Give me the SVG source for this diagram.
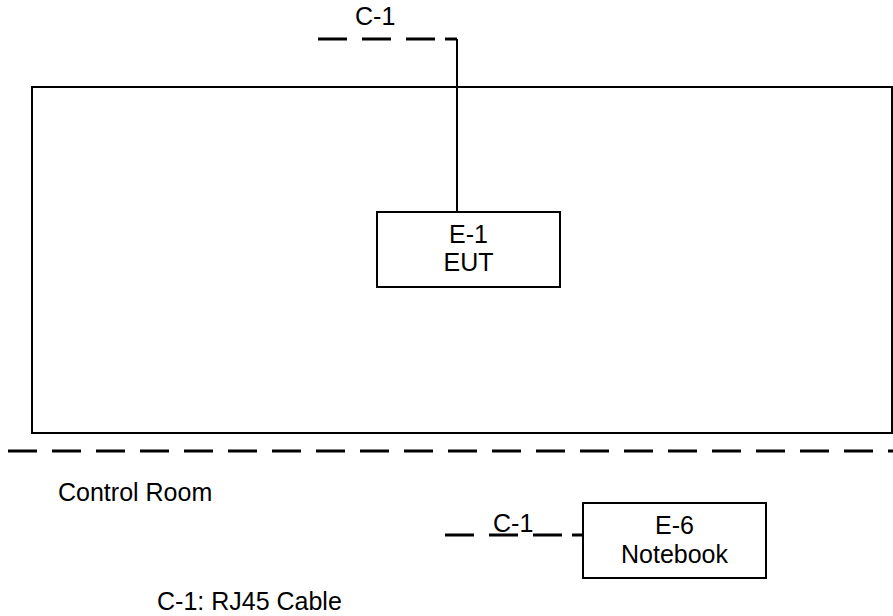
<svg xmlns="http://www.w3.org/2000/svg" width="893" height="616" viewBox="0 0 893 616">
<style>
.box{fill:#fff;stroke:#000;stroke-width:2}
.area{fill:none;stroke:#000;stroke-width:2}
.dash{fill:none;stroke:#000;stroke-width:3;stroke-dasharray:29 15}
.solid{fill:none;stroke:#000;stroke-width:2}
.stub{fill:none;stroke:#000;stroke-width:3}
text{font-family:"Liberation Sans",Arial,sans-serif;font-size:25px;fill:#000}
.c{text-anchor:middle}
</style>
<rect width="893" height="616" fill="#fff"/>
<g id="test-room">
<rect class="area" x="32" y="87" width="860" height="346"/>
</g>
<g id="separator">
<path class="dash" d="M8,451 H893"/>
</g>
<g id="connectors">
<path class="dash" d="M318,39 H437"/>
<path class="stub" d="M445,39 H457"/>
<path class="solid" d="M457,39 V212"/>
<path class="dash" d="M445,535 H562"/>
<path class="stub" d="M572,535 H583"/>
<text x="355" y="25">C-1</text>
<text x="493" y="532">C-1</text>
</g>
<g id="E-1">
<rect class="box" x="377" y="212" width="183" height="75"/>
<text class="c" x="468.5" y="243">E-1</text>
<text class="c" x="468.5" y="271">EUT</text>
</g>
<g id="E-6">
<rect class="box" x="583" y="503" width="183" height="75"/>
<text class="c" x="674.5" y="534">E-6</text>
<text class="c" x="674.5" y="563">Notebook</text>
</g>
<g id="labels">
<text x="58" y="501">Control Room</text>
<text x="157" y="610">C-1: RJ45 Cable</text>
</g>
</svg>
